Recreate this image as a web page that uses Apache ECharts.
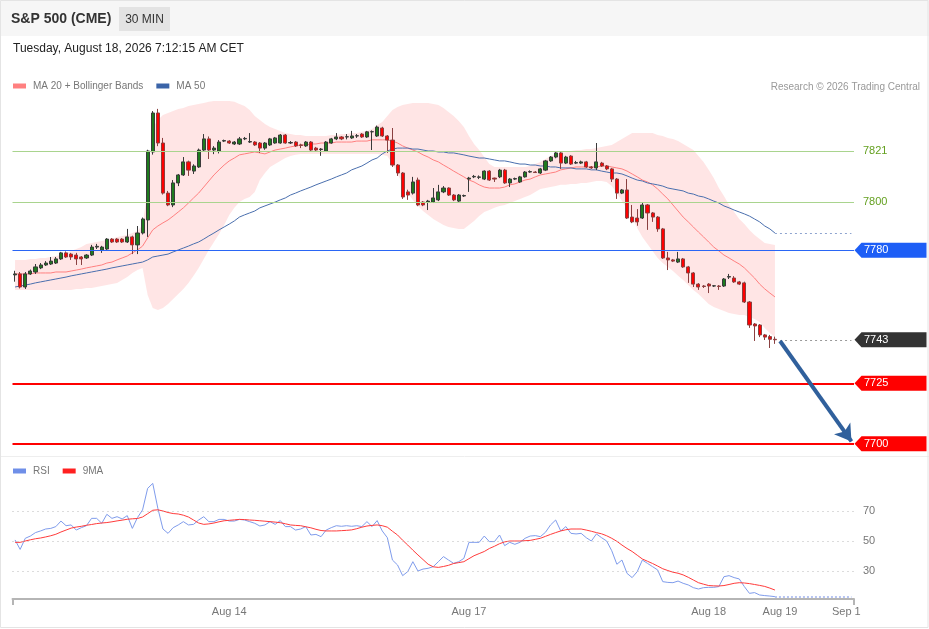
<!DOCTYPE html>
<html>
<head>
<meta charset="utf-8">
<script src="https://cdn.jsdelivr.net/npm/echarts@6/dist/echarts.min.js"></script>
<style>
html,body{margin:0;padding:0;background:#fff;}
#chart{width:929px;height:629px;}
</style>
</head>
<body>
<div id="chart"></div>
<script>
// ---------- DATA ----------
const openP = [
7769.8,7770.2,7764.8,7770.2,7771.0,7772.7,7773.9,7774.3,7774.7,7776.4,
7778.9,7778.4,7778.0,7777.2,7776.8,7778.0,7781.3,7780.1,7780.5,7784.6,
7784.6,7784.6,7783.4,7785.5,7782.2,7787.1,7792.5,7820.6,7836.7,7824.3,
7803.6,7798.7,7807.8,7811.1,7816.5,7812.7,7814.4,7821.4,7826.0,7821.4,
7821.0,7825.1,7825.1,7823.9,7823.9,7826.0,7824.7,7824.7,7824.3,7822.2,
7823.5,7824.3,7824.3,7827.6,7824.3,7824.7,7823.5,7823.1,7824.7,7822.2,
7821.6,7821.0,7824.3,7826.0,7826.8,7826.8,7826.4,7827.2,7828.0,7826.8,
7828.9,7827.2,7830.5,7827.2,7825.5,7815.2,7811.9,7804.1,7803.6,7809.0,
7799.9,7799.9,7799.9,7800.8,7804.1,7805.7,7802.8,7800.3,7802.4,7809.4,
7810.3,7810.1,7809.4,7812.7,7809.8,7810.3,7813.1,7807.8,7809.4,7808.2,
7810.3,7812.3,7812.3,7811.9,7813.1,7816.9,7818.5,7820.2,7816.0,7818.9,
7816.0,7816.0,7816.5,7814.4,7814.0,7816.0,7814.8,7813.6,7809.4,7803.6,
7804.9,7793.7,7793.3,7793.3,7798.7,7795.4,7793.7,7788.8,7776.8,7776.0,
7775.1,7776.4,7773.1,7770.6,7766.0,7765.2,7766.0,7765.2,7765.2,7765.2,
7768.9,7768.5,7766.9,7766.5,7758.6,7749.5,7749.1,7745.0,7744.3,7743.2
];
const closeP = [
7770.2,7764.8,7770.2,7771.4,7773.1,7773.9,7774.7,7775.5,7776.4,7778.9,
7777.2,7777.2,7776.4,7776.4,7778.0,7781.3,7781.6,7781.3,7784.6,7783.4,
7783.4,7783.4,7785.5,7782.2,7787.1,7792.9,7821.0,7836.7,7824.3,7803.6,
7798.7,7807.8,7811.1,7816.5,7813.1,7814.8,7821.4,7826.0,7821.4,7822.2,
7824.7,7825.3,7824.3,7824.7,7826.0,7826.2,7824.9,7823.5,7822.2,7824.3,
7826.0,7826.4,7827.6,7824.3,7824.5,7823.1,7823.3,7824.7,7821.4,7821.4,
7821.8,7824.7,7826.0,7826.8,7826.0,7826.9,7827.2,7827.3,7826.8,7828.9,
7829.0,7830.9,7827.2,7825.5,7815.2,7811.9,7802.0,7802.8,7808.2,7798.7,
7798.7,7800.3,7801.6,7804.1,7805.7,7802.8,7800.8,7802.8,7802.6,7809.8,
7810.5,7810.3,7812.7,7809.0,7809.4,7813.1,7807.8,7809.4,7809.6,7810.3,
7812.3,7812.5,7812.1,7813.6,7816.9,7818.5,7820.2,7816.0,7818.5,7815.6,
7816.2,7816.5,7814.4,7814.0,7816.5,7814.8,7813.6,7809.4,7803.6,7804.9,
7793.3,7791.7,7791.7,7798.7,7795.4,7793.7,7788.8,7776.8,7776.0,7775.5,
7776.4,7773.1,7770.6,7766.0,7764.8,7765.0,7765.2,7765.3,7765.0,7768.1,
7769.1,7766.9,7766.0,7758.6,7749.1,7748.7,7745.0,7744.1,7743.2,7743.0
];
const lowP = [
7767.0,7764.2,7764.0,7769.8,7770.2,7772.2,7773.5,7773.9,7774.3,7776.0,
7776.8,7776.0,7773.9,7773.9,7776.4,7777.6,7780.5,7778.9,7780.1,7783.0,
7783.0,7783.0,7783.0,7778.4,7778.4,7786.5,7785.5,7819.5,7823.0,7803.0,
7798.2,7797.8,7806.5,7810.7,7810.7,7811.5,7814.0,7821.0,7817.7,7819.7,
7820.0,7824.7,7823.9,7823.5,7823.5,7825.5,7824.3,7823.1,7820.2,7821.5,
7823.1,7824.0,7824.0,7824.0,7823.9,7822.7,7822.2,7822.7,7821.0,7821.0,
7819.0,7820.6,7824.0,7825.5,7825.5,7825.8,7826.0,7826.4,7826.4,7826.4,
7821.4,7826.8,7826.8,7820.2,7814.4,7810.7,7801.2,7800.8,7803.0,7798.2,
7798.2,7796.6,7799.5,7800.3,7803.6,7802.4,7800.3,7799.9,7802.0,7804.1,
7809.8,7809.4,7809.0,7808.6,7808.2,7809.8,7807.4,7806.1,7809.0,7807.8,
7810.0,7812.0,7811.9,7811.5,7812.7,7816.5,7818.0,7813.6,7815.6,7815.2,
7815.6,7815.6,7814.0,7813.6,7813.1,7814.4,7813.1,7808.2,7801.2,7803.2,
7792.9,7791.2,7790.1,7792.9,7788.4,7791.7,7787.6,7776.4,7771.8,7775.1,
7774.7,7772.7,7766.5,7764.8,7763.6,7764.4,7762.3,7764.8,7763.6,7764.8,
7768.1,7766.5,7765.6,7758.2,7747.9,7742.5,7744.1,7742.9,7739.6,7741.3
];
const highP = [
7771.5,7771.0,7771.0,7772.0,7774.3,7774.7,7775.5,7777.2,7777.2,7779.3,
7779.5,7778.9,7778.9,7777.6,7778.4,7782.2,7782.6,7781.8,7785.0,7785.0,
7785.0,7785.0,7788.8,7786.0,7790.0,7793.5,7821.5,7837.5,7838.4,7826.4,
7804.5,7809.0,7811.5,7818.5,7817.0,7815.5,7822.0,7828.0,7827.0,7823.0,
7825.5,7825.7,7825.5,7825.1,7826.8,7826.8,7828.4,7825.1,7824.7,7824.7,
7826.4,7826.8,7828.0,7828.0,7825.1,7825.1,7824.0,7825.1,7825.1,7822.7,
7822.2,7825.1,7826.4,7828.4,7827.2,7828.0,7829.3,7828.0,7828.4,7829.3,
7829.5,7831.5,7831.0,7827.6,7830.5,7815.6,7812.3,7805.0,7810.3,7810.0,
7800.3,7800.8,7805.7,7807.0,7806.5,7806.0,7803.2,7803.2,7803.0,7810.3,
7811.1,7810.9,7813.0,7813.1,7810.0,7813.6,7813.6,7809.8,7810.0,7810.7,
7812.7,7813.0,7812.7,7814.0,7817.3,7818.9,7820.6,7820.6,7819.0,7819.3,
7816.9,7817.0,7816.9,7814.8,7824.3,7816.5,7815.2,7814.0,7809.8,7805.3,
7809.4,7798.7,7797.0,7799.5,7799.1,7795.8,7794.1,7789.2,7779.3,7776.4,
7779.3,7776.8,7773.5,7771.0,7766.4,7765.6,7766.4,7765.6,7765.6,7768.5,
7770.2,7769.3,7767.3,7767.0,7759.0,7749.9,7749.5,7745.4,7745.0,7744.3
];
const bbUpper = [
7776.0,7776.0,7776.0,7776.4,7776.4,7776.8,7776.8,7777.2,7777.6,7778.0,
7778.9,7779.7,7780.5,7781.3,7782.6,7783.0,7783.4,7783.8,7784.2,7784.6,
7785.5,7785.9,7786.3,7787.1,7787.9,7790.4,7804.9,7830.5,7833.8,7835.9,
7836.7,7837.5,7838.4,7838.8,7839.6,7840.0,7840.4,7840.8,7841.3,7841.7,
7841.7,7841.7,7841.7,7841.3,7840.4,7839.6,7837.9,7835.5,7833.8,7832.2,
7830.9,7830.1,7829.3,7828.4,7828.0,7827.6,7827.6,7827.2,7827.2,7827.2,
7827.2,7827.2,7827.6,7827.6,7828.0,7828.0,7828.4,7828.4,7828.9,7829.3,
7830.1,7831.7,7833.0,7835.5,7837.9,7839.2,7840.0,7840.4,7840.8,7840.8,
7840.8,7840.8,7840.4,7840.0,7838.8,7837.1,7835.5,7833.4,7830.9,7827.2,
7823.9,7821.4,7818.5,7815.6,7814.4,7814.4,7814.4,7814.4,7814.4,7814.4,
7814.4,7814.8,7815.6,7816.5,7817.7,7818.9,7819.8,7820.2,7820.6,7821.0,
7821.4,7821.4,7821.8,7821.8,7822.2,7822.7,7823.1,7823.5,7824.7,7826.0,
7827.2,7828.4,7828.4,7828.4,7828.4,7828.4,7827.6,7827.2,7826.4,7826.0,
7825.1,7823.9,7822.7,7821.4,7818.9,7816.5,7813.2,7809.8,7805.7,7802.4,
7798.7,7795.8,7792.9,7790.8,7788.4,7786.3,7784.6,7783.0,7782.6,7782.2
];
const bbLower = [
7763.6,7763.6,7763.6,7763.6,7763.6,7763.6,7763.6,7763.6,7763.6,7763.6,
7763.6,7763.6,7764.0,7764.0,7764.4,7764.4,7764.8,7765.2,7765.6,7766.0,
7766.5,7767.7,7768.9,7770.6,7771.8,7772.7,7761.5,7756.1,7755.3,7756.1,
7757.8,7759.8,7761.9,7764.0,7766.5,7769.4,7772.7,7776.4,7780.1,7783.4,
7786.7,7790.4,7794.6,7797.5,7799.9,7801.2,7802.0,7804.1,7809.0,7811.9,
7814.4,7815.6,7816.9,7818.1,7818.9,7819.4,7819.8,7819.8,7819.8,7819.8,
7819.8,7819.8,7819.8,7819.8,7819.8,7819.8,7819.8,7819.8,7819.8,7819.8,
7819.8,7819.8,7819.4,7818.9,7815.6,7811.5,7807.4,7803.6,7800.8,7798.3,
7796.2,7794.6,7792.9,7791.7,7790.4,7789.6,7789.2,7788.8,7788.8,7790.4,
7792.1,7794.1,7795.8,7796.6,7797.5,7798.3,7798.7,7799.5,7800.3,7801.2,
7802.0,7802.8,7804.1,7805.3,7805.7,7806.1,7806.5,7807.0,7807.0,7807.4,
7807.4,7807.8,7807.8,7808.2,7808.6,7808.6,7808.2,7806.5,7803.6,7800.3,
7797.0,7793.3,7789.2,7785.5,7782.6,7779.7,7776.8,7774.7,7773.1,7771.4,
7769.4,7767.7,7765.6,7763.6,7761.9,7759.8,7757.8,7756.5,7755.7,7754.9,
7754.1,7753.6,7753.2,7753.2,7752.4,7751.6,7750.3,7747.9,7745.8,7744.1
];
const ma20 = [
7770.2,7770.2,7770.2,7770.2,7770.6,7770.6,7770.6,7770.6,7771.0,7771.0,
7771.0,7771.4,7771.8,7772.2,7772.7,7773.1,7773.5,7773.9,7774.7,7775.1,
7776.0,7776.8,7777.6,7778.9,7780.1,7781.7,7785.1,7788.4,7790.0,7791.3,
7792.5,7794.1,7795.8,7797.5,7799.5,7801.6,7803.6,7806.1,7808.6,7811.1,
7813.2,7815.2,7816.9,7818.1,7819.4,7819.8,7820.2,7820.6,7820.2,7819.8,
7820.6,7821.4,7821.8,7822.2,7822.7,7823.1,7823.5,7823.5,7823.9,7823.9,
7824.3,7824.3,7824.3,7824.7,7824.7,7824.7,7824.7,7825.1,7825.1,7825.1,
7825.6,7825.6,7825.6,7825.6,7825.1,7824.3,7823.1,7822.2,7821.4,7820.6,
7819.4,7818.5,7817.3,7816.5,7815.2,7814.0,7812.7,7811.5,7810.3,7809.0,
7808.2,7807.0,7806.1,7805.7,7805.7,7805.7,7806.1,7807.0,7807.4,7808.2,
7809.0,7809.4,7810.3,7811.1,7811.5,7811.9,7812.3,7813.2,7813.6,7814.0,
7814.4,7814.4,7814.4,7814.4,7814.4,7814.8,7814.8,7814.4,7814.0,7813.6,
7812.7,7811.5,7810.3,7809.0,7808.2,7807.0,7805.3,7803.2,7801.2,7798.7,
7796.2,7793.7,7791.7,7789.6,7787.5,7785.5,7783.4,7781.3,7779.7,7778.0,
7776.8,7775.5,7774.3,7772.7,7770.6,7768.5,7766.0,7764.0,7762.3,7760.7
];
const ma50 = [
7764.8,7765.2,7765.6,7766.0,7766.5,7766.9,7767.3,7767.7,7768.1,7768.5,
7768.9,7769.4,7769.8,7770.2,7770.6,7771.0,7771.4,7771.8,7772.2,7772.7,
7773.1,7773.5,7773.9,7774.3,7774.7,7775.1,7776.0,7777.2,7777.6,7778.0,
7778.4,7779.3,7780.1,7780.9,7781.7,7782.6,7783.4,7784.6,7785.9,7787.1,
7788.4,7789.6,7790.8,7792.1,7793.7,7794.6,7795.4,7796.2,7797.5,7798.3,
7799.1,7799.9,7800.8,7801.6,7802.8,7803.6,7804.5,7805.3,7806.1,7807.0,
7807.8,7808.6,7809.4,7810.3,7811.1,7811.9,7813.2,7814.0,7814.8,7816.0,
7817.3,7818.1,7819.8,7821.0,7821.8,7822.2,7822.2,7822.2,7821.8,7821.8,
7821.4,7821.0,7821.0,7820.6,7820.6,7820.2,7820.2,7819.8,7819.4,7818.9,
7818.5,7818.1,7818.1,7817.7,7817.3,7816.9,7816.9,7816.5,7816.0,7815.6,
7815.6,7815.2,7815.2,7814.8,7814.8,7814.4,7814.4,7814.0,7814.0,7814.0,
7813.6,7813.6,7813.6,7813.2,7813.2,7812.7,7812.3,7811.9,7811.9,7811.5,
7810.7,7809.8,7809.0,7808.6,7807.8,7807.4,7807.0,7806.5,7805.7,7805.3,
7804.9,7804.5,7803.6,7803.2,7802.4,7802.0,7801.2,7800.3,7799.5,7798.3,
7797.5,7796.6,7795.8,7795.0,7794.1,7792.9,7791.7,7790.0,7788.8,7787.1
];
const rsi = [
50.7,44.4,51.8,53.3,55.6,56.7,58.0,58.4,59.6,63.3,
60.2,60.7,57.3,58.9,60.2,65.1,65.1,61.8,67.8,65.1,
66.2,64.7,66.9,58.4,65.6,70.7,85.1,88.4,71.8,58.0,
55.1,58.9,60.7,62.9,60.7,61.1,64.0,66.2,62.9,62.9,
64.4,64.4,63.3,63.3,64.4,64.0,62.9,61.8,60.0,60.7,
62.9,61.1,63.6,59.6,59.6,57.3,58.0,59.6,54.0,54.4,
52.9,57.3,58.9,60.2,59.8,60.2,59.8,60.2,59.6,62.9,
59.6,63.6,56.7,52.2,37.3,34.0,26.9,29.6,36.2,30.0,
31.3,31.8,32.9,36.2,39.6,37.3,35.1,36.2,38.4,49.1,
49.1,49.1,53.3,49.6,49.6,54.0,46.9,49.1,47.8,49.1,
51.8,53.3,53.6,52.9,55.8,60.7,64.0,56.7,59.6,55.1,
54.7,55.1,52.2,50.0,54.7,52.2,50.0,43.5,34.5,37.3,
28.4,25.6,29.6,37.3,35.1,32.9,30.7,22.9,22.4,22.2,
23.3,21.8,20.7,18.9,18.0,18.9,19.1,19.1,19.6,26.2,
26.9,25.6,24.7,19.6,15.1,15.6,14.0,13.6,13.3,12.9
];
const rsiMa9 = [
49.1,49.1,50.0,50.8,51.5,52.0,52.7,53.5,54.5,56.0,
57.3,58.6,59.3,59.8,60.5,61.0,61.6,62.0,62.3,62.8,
63.4,63.9,64.5,64.8,65.0,66.0,68.2,70.5,70.8,70.0,
69.0,68.3,68.0,67.2,66.0,64.0,62.0,61.1,61.4,62.0,
62.8,63.5,63.8,64.1,64.4,64.3,64.0,63.8,63.5,63.2,
62.9,62.6,62.2,61.5,60.7,60.4,60.2,59.5,58.8,57.8,
57.0,56.7,56.7,56.7,56.9,57.1,57.4,58.2,59.2,60.0,
60.4,60.7,60.2,59.2,56.5,54.0,50.5,47.3,43.9,40.7,
37.6,34.5,32.8,32.4,33.0,33.8,35.0,35.6,36.2,38.2,
40.2,41.6,43.0,45.0,46.5,48.2,49.4,50.0,50.0,50.0,
50.2,50.4,51.1,51.8,53.1,54.4,55.6,56.7,57.5,58.0,
58.0,58.0,57.3,56.5,55.6,54.8,53.5,51.8,49.8,47.3,
45.0,43.0,40.5,38.0,36.5,35.0,33.3,31.5,30.3,29.2,
28.5,27.4,25.8,24.0,22.2,21.2,20.3,20.1,20.0,20.3,
21.0,21.8,22.2,22.0,21.6,21.0,20.4,19.7,18.6,17.3
];
// price levels drawn across the chart
const supportResistance = [7821, 7800];      // green levels
const pivotLevel = 7780;                      // blue level
const lastPrice = 7743;                       // current price
const supportLevels = [7725, 7700];           // red targets
const rsiLevels = [70, 50, 30];
// x-axis time labels (slot index -> text)
const timeLabelSlots = [42, 89, 136, 150, 163];
const timeLabels = ['Aug 14', 'Aug 17', 'Aug 18', 'Aug 19', 'Sep 1'];
const totalSlots = 165;

// ---------- BUILD ----------
const FONT = 'Liberation Sans, Arial, Helvetica, sans-serif';
const cats = Array.from({length: totalSlots}, (_, i) => String(i));
const lastIdx = closeP.length - 1;
const endSlot = String(totalSlots - 1);
const candles = openP.map((o, i) => [o, closeP[i], lowP[i], highP[i]]);
const bandWidth = bbUpper.map((u, i) => +(u - bbLower[i]).toFixed(2));

const tagValues = [pivotLevel, lastPrice, supportLevels[0], supportLevels[1]];
const tagColors = ['#1d5ef6', '#333333', '#ff0000', '#ff0000'];

const chart = echarts.init(document.getElementById('chart'), null, {renderer: 'canvas'});

const option = {
  animation: false,
  backgroundColor: '#ffffff',
  textStyle: {fontFamily: FONT},
  legend: [
    {
      data: ['MA 20 + Bollinger Bands', 'MA 50'],
      left: 13, top: 81, padding: 0,
      icon: 'rect', itemWidth: 13, itemHeight: 5, itemGap: 13,
      textStyle: {fontSize: 10, color: '#777', fontFamily: FONT, padding: [0, 0, 0, 2]},
      selectedMode: false
    },
    {
      data: ['RSI', '9MA'],
      left: 13, top: 466, padding: 0,
      icon: 'rect', itemWidth: 13, itemHeight: 5, itemGap: 13,
      textStyle: {fontSize: 10, color: '#777', fontFamily: FONT, padding: [0, 0, 0, 2]},
      selectedMode: false
    }
  ],
  grid: [
    {left: 12.5, right: 75, top: 100, height: 355},
    {left: 12.5, right: 75, top: 466, height: 133}
  ],
  xAxis: [
    {type: 'category', gridIndex: 0, data: cats, boundaryGap: true, show: false},
    {
      type: 'category', gridIndex: 1, data: cats, boundaryGap: true,
      axisLine: {show: true, lineStyle: {color: '#b5b5b5', width: 2}},
      axisTick: {show: true, length: 6, interval: (i) => i === 0, lineStyle: {color: '#b5b5b5', width: 2}},
      axisLabel: {
        show: true, color: '#777', fontSize: 11, margin: 7, fontFamily: FONT,
        interval: (i) => timeLabelSlots.indexOf(i) >= 0,
        formatter: (v, i) => { const k = timeLabelSlots.indexOf(i); return k >= 0 ? timeLabels[k] : ''; }
      },
      splitLine: {show: false}
    }
  ],
  yAxis: [
    {type: 'value', gridIndex: 0, min: 7695.38, max: 7842.07, show: false, splitLine: {show: false}},
    {type: 'value', gridIndex: 1, min: 11.3333, max: 100, show: false, splitLine: {show: false}}
  ],
  series: [
    {
      name: 'bbLow', type: 'line', xAxisIndex: 0, yAxisIndex: 0, data: bbLower,
      stack: 'bb', symbol: 'none', lineStyle: {width: 0, opacity: 0}, silent: true, z: 1
    },
    {
      name: 'bbBand', type: 'line', xAxisIndex: 0, yAxisIndex: 0, data: bandWidth,
      stack: 'bb', symbol: 'none', lineStyle: {width: 0, opacity: 0},
      areaStyle: {color: 'rgba(255,40,40,0.12)', opacity: 1}, silent: true, z: 1
    },
    {
      name: 'MA 20 + Bollinger Bands', type: 'line', xAxisIndex: 0, yAxisIndex: 0, data: ma20,
      symbol: 'none', color: '#ff8080', lineStyle: {width: 1, color: '#ff8080'}, silent: true, z: 2
    },
    {
      name: 'MA 50', type: 'line', xAxisIndex: 0, yAxisIndex: 0, data: ma50,
      symbol: 'none', color: '#3b64a8', lineStyle: {width: 1, color: '#4a6fae'}, silent: true, z: 2,
      markLine: {
        silent: true, symbol: ['none', 'none'],
        label: {show: false},
        lineStyle: {color: '#8ea4cf', width: 1, type: [2, 3]},
        data: [[{coord: [String(lastIdx), ma50[lastIdx]]}, {coord: [endSlot, ma50[lastIdx]]}]]
      }
    },
    {
      name: 'price', type: 'candlestick', xAxisIndex: 0, yAxisIndex: 0, data: candles,
      barWidth: 3.6, silent: true, z: 3,
      itemStyle: {color: '#1e7b1e', color0: '#ff0000', borderColor: '#3a3a3a', borderColor0: '#8a4040', borderWidth: 1},
      markLine: {
        silent: true, symbol: ['none', 'none'], z: 5,
        label: {show: false},
        data: [
          {yAxis: supportResistance[0], lineStyle: {color: '#a9d48e', width: 1, type: 'solid'},
           label: {show: true, position: 'end', distance: 9, formatter: String(supportResistance[0]), color: '#64a020', fontSize: 11, fontFamily: FONT}},
          {yAxis: supportResistance[1], lineStyle: {color: '#a9d48e', width: 1, type: 'solid'},
           label: {show: true, position: 'end', distance: 9, formatter: String(supportResistance[1]), color: '#64a020', fontSize: 11, fontFamily: FONT}},
          {yAxis: pivotLevel, lineStyle: {color: '#2a66f5', width: 1.2, type: 'solid'}},
          {yAxis: supportLevels[0], lineStyle: {color: '#ff0000', width: 2, type: 'solid'}},
          {yAxis: supportLevels[1], lineStyle: {color: '#ff0000', width: 2, type: 'solid'}},
          [{coord: [String(lastIdx + 1), lastPrice], lineStyle: {color: '#9a9a9a', width: 1, type: [2, 3]}},
           {coord: [endSlot, lastPrice]}],
          [{coord: [String(lastIdx + 1), lastPrice - 0.5], symbol: 'none', lineStyle: {color: '#30609c', width: 4, type: 'solid'}},
           {coord: [endSlot, supportLevels[1] + 1], symbol: 'arrow', symbolSize: [15, 16]}]
        ]
      }
    },
    {
      name: 'tags', type: 'custom', xAxisIndex: 0, yAxisIndex: 0, silent: true, clip: false, z: 20,
      data: tagValues.map(v => [0, v]),
      renderItem: function (params, api) {
        const k = params.dataIndex;
        const cs = params.coordSys;
        const y = api.coord([0, api.value(1)])[1];
        const x0 = cs.x + cs.width + 0.5;
        const h = 7.5;
        return {
          type: 'group',
          children: [
            {type: 'polygon', shape: {points: [[x0, y], [x0 + 7, y - h], [x0 + 72, y - h], [x0 + 72, y + h], [x0 + 7, y + h]]},
             style: {fill: tagColors[k]}},
            {type: 'text', style: {text: String(tagValues[k]), x: x0 + 9.5, y: y, verticalAlign: 'middle', align: 'left',
             fill: '#ffffff', font: '11px ' + FONT}}
          ]
        };
      }
    },
    {
      name: 'RSI', type: 'line', xAxisIndex: 1, yAxisIndex: 1, data: rsi,
      symbol: 'none', color: '#6f8fe8', lineStyle: {width: 1, color: '#7f9cec'}, silent: true, z: 3,
      markLine: {
        silent: true, symbol: ['none', 'none'],
        data: rsiLevels.map(v => ({
          yAxis: v, lineStyle: {color: '#b8b8b8', width: 1, type: [1, 4]},
          label: {show: true, position: 'end', distance: 9, formatter: String(v), color: '#777', fontSize: 11, fontFamily: FONT}
        })).concat([
          [{coord: [String(lastIdx), rsi[lastIdx]], lineStyle: {color: '#b7c5f2', width: 2, type: [2, 2]}, label: {show: false}},
           {coord: [endSlot, rsi[lastIdx]]}]
        ])
      }
    },
    {
      name: '9MA', type: 'line', xAxisIndex: 1, yAxisIndex: 1, data: rsiMa9,
      symbol: 'none', color: '#ff2020', lineStyle: {width: 1, color: '#ff3b3b'}, silent: true, z: 3
    }
  ],
  graphic: [
    {type: 'rect', silent: true, z: -10, shape: {x: 0, y: 0, width: 929, height: 36}, style: {fill: '#f6f6f6'}},
    {type: 'text', silent: true, style: {text: 'S&P 500 (CME)', x: 11, y: 19, verticalAlign: 'middle', fill: '#333', font: 'bold 14px ' + FONT}},
    {type: 'rect', silent: true, shape: {x: 119, y: 7, width: 51, height: 24}, style: {fill: '#e3e3e3'}},
    {type: 'text', silent: true, style: {text: '30 MIN', x: 144.5, y: 19.5, align: 'center', verticalAlign: 'middle', fill: '#333', font: '12px ' + FONT}},
    {type: 'text', silent: true, style: {text: 'Tuesday, August 18, 2026 7:12:15 AM CET', x: 13, y: 48.5, verticalAlign: 'middle', fill: '#222', font: '12px ' + FONT}},
    {type: 'text', silent: true, style: {text: 'Research \u00A9 2026 Trading Central', x: 920, y: 87, align: 'right', verticalAlign: 'middle', fill: '#999', font: '10px ' + FONT}},
    {type: 'line', silent: true, shape: {x1: 0, y1: 456.5, x2: 929, y2: 456.5}, style: {stroke: '#eeeeee', lineWidth: 1}},
    {type: 'rect', silent: true, z: 50, shape: {x: 0.5, y: 0.5, width: 927.5, height: 627}, style: {fill: 'none', stroke: '#e4e4e4', lineWidth: 1}}
  ]
};
chart.setOption(option);
</script>
</body>
</html>
